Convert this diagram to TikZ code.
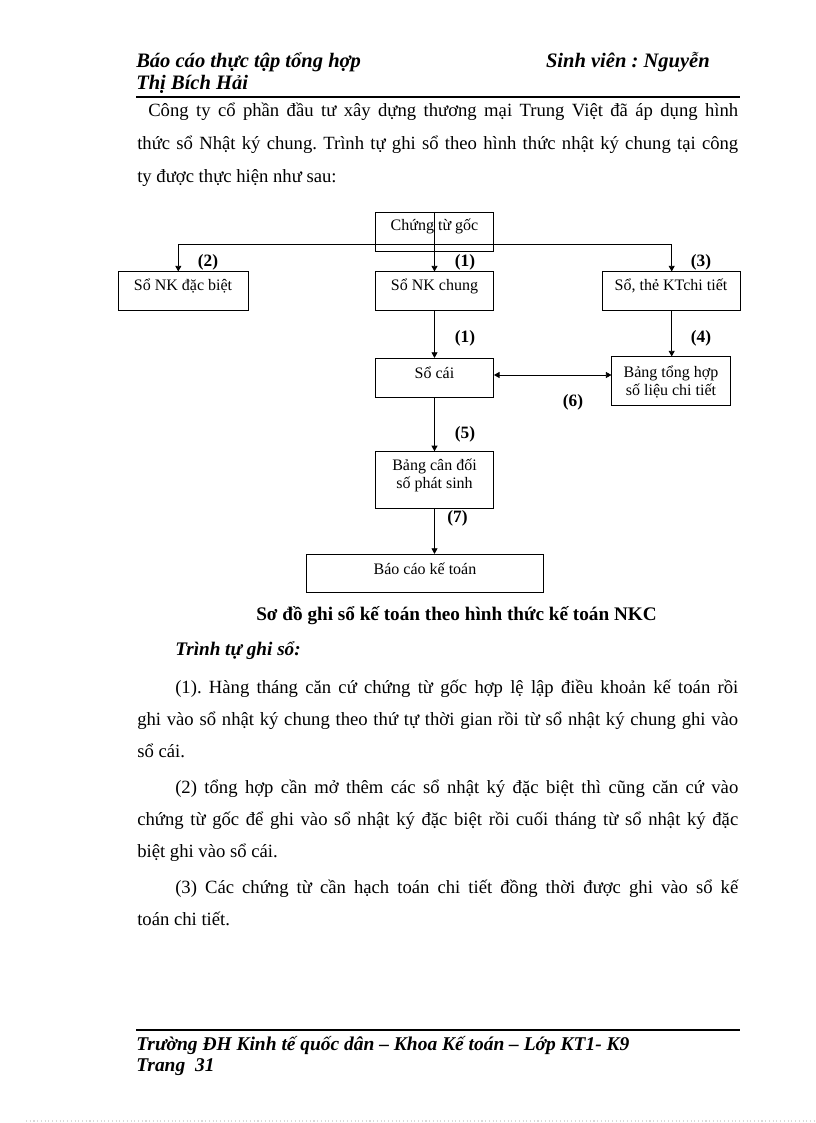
\documentclass[tikz,border=0pt]{standalone}
\usepackage{fontspec}
\setmainfont{Liberation Serif}
\usetikzlibrary{
arrows.meta,
}
\tikzset{
x=0.75pt, y=-0.75pt,
every node/.style={align=center, inner sep=0pt},
book/.style={rectangle, draw, line width=0.6pt},
boxtext/.style={font=\fontsize{12}{13.5}\selectfont, yshift=3.5pt},
num/.style={font=\fontsize{13}{15}\selectfont\bfseries},
link/.style={line width=0.6pt},
rule/.style={line width=1.3pt},
bodyline/.style={anchor=base west, font=\fontsize{14}{17}\selectfont},
headline/.style={anchor=base west, font=\fontsize{15.4}{18}\selectfont\bfseries\itshape},
footline/.style={anchor=base west, font=\fontsize{14.6}{17}\selectfont\bfseries\itshape},
>={Triangle[length=4.2pt, width=4.5pt]},
}
\newcommand\fillline[2]{\makebox[#1][s]{#2}}
\frenchspacing

\begin{document}
\begin{tikzpicture}
    \useasboundingbox (0,0) rectangle (816,1123);

    % page header
    \node [headline] (hdl) at (136,68) {Báo cáo thực tập tổng hợp};
    \node [headline, anchor=base east] (hdr) at (710,68) {Sinh viên : Nguyễn};
    \node [headline] (hdn) at (136,90) {Thị Bích Hải};
    \draw [rule] (136,97) -- (740,97);

    % intro
    \node [bodyline] (intro1) at (148,117) {\fillline{442.5pt}{Công ty cổ phần đầu tư xây dựng thương mại Trung Việt đã áp dụng hình}};
    \node [bodyline] (intro2) at (137,150) {\fillline{450.75pt}{thức sổ Nhật ký chung. Trình tự ghi sổ theo hình thức nhật ký chung tại công}};
    \node [bodyline] (intro3) at (137,183) {ty được thực hiện như sau:};

    % boxes
    \node [book, minimum width=88.2pt, minimum height=29pt, label={[boxtext]center:Chứng từ gốc}] (goc) at (434.5,231.6) {};
    \node [book, minimum width=97.5pt, minimum height=28.7pt, label={[boxtext]center:Sổ NK đặc biệt}] (nkdb) at (183,291) {};
    \node [book, minimum width=88.2pt, minimum height=28.7pt, label={[boxtext]center:Sổ NK chung}] (nkc) at (434.5,291) {};
    \node [book, minimum width=103.5pt, minimum height=28.7pt, label={[boxtext]center:Sổ, thẻ KTchi tiết}] (ktct) at (671,291) {};
    \node [book, minimum width=88.5pt, minimum height=29.25pt, label={[boxtext]center:Sổ cái}] (socai) at (434.5,377.8) {};
    \node [book, minimum width=88.7pt, minimum height=36.2pt, label={[boxtext, yshift=-4pt]center:Bảng tổng hợp\\số liệu chi tiết}] (thct) at (671,381) {};
    \node [book, minimum width=88.5pt, minimum height=42.5pt, label={[boxtext]center:Bảng cân đối\\số phát sinh}] (cdps) at (434.5,480) {};
    \node [book, minimum width=177.5pt, minimum height=28.8pt, label={[boxtext]center:Báo cáo kế toán}] (bckt) at (425,573.5) {};

    % connectors
    \coordinate (tl) at (178.3,244);
    \coordinate (tr) at (671.7,244);
    \coordinate (mid) at (553,375);
    \draw [link] (tl) -- (tr);
    \draw [link, ->] (tl) -- (tl |- nkdb.north);
    \draw [link, ->] (tr) -- (tr |- ktct.north);
    \draw [link, ->] (goc.north) -- (nkc.north);
    \draw [link, ->] (nkc.south) -- (socai.north);
    \draw [link, ->] (tr |- ktct.south) -- (tr |- thct.north);
    \draw [link, <->] (socai.east |- mid) -- (thct.west |- mid);
    \draw [link, ->] (socai.south) -- (cdps.north);
    \draw [link, ->] (cdps.south) -- (cdps.south |- bckt.north);

    % step numbers
    \node [num] (s2) at (208,262) {(2)};
    \node [num] (s1a) at (465,262) {(1)};
    \node [num] (s3) at (701,262) {(3)};
    \node [num] (s1b) at (465,338) {(1)};
    \node [num] (s4) at (701,338) {(4)};
    \node [num] (s6) at (573,402) {(6)};
    \node [num] (s5) at (465,434) {(5)};
    \node [num] (s7) at (457.5,518) {(7)};

    % caption
    \node [bodyline, anchor=base, font=\fontsize{14.4}{17}\selectfont\bfseries] (cap) at (456.5,620) {Sơ đồ ghi sổ kế toán theo hình thức kế toán NKC};

    % steps text
    \node [headline, font=\fontsize{14.4}{17}\selectfont\bfseries\itshape] (seq) at (175,655) {Trình tự ghi sổ:};
    \node [bodyline] (t1a) at (175,693) {\fillline{422.25pt}{(1). Hàng tháng căn cứ chứng từ gốc hợp lệ lập điều khoản kế toán rồi}};
    \node [bodyline] (t1b) at (137,725) {\fillline{450.75pt}{ghi vào sổ nhật ký chung theo thứ tự thời gian rồi từ sổ nhật ký chung ghi vào}};
    \node [bodyline] (t1c) at (137,757) {sổ cái.};
    \node [bodyline] (t2a) at (175,793) {\fillline{422.25pt}{(2) tổng hợp cần mở thêm các sổ nhật ký đặc biệt thì cũng căn cứ vào}};
    \node [bodyline] (t2b) at (137,825) {\fillline{450.75pt}{chứng từ gốc để ghi vào sổ nhật ký đặc biệt rồi cuối tháng từ sổ nhật ký đặc}};
    \node [bodyline] (t2c) at (137,857) {biệt ghi vào sổ cái.};
    \node [bodyline] (t3a) at (175,893) {\fillline{422.25pt}{(3) Các chứng từ cần hạch toán chi tiết đồng thời được ghi vào sổ kế}};
    \node [bodyline] (t3b) at (137,925) {toán chi tiết.};

    % page footer
    \draw [rule] (136,1030) -- (740,1030);
    \node [footline] (ftl) at (136,1050) {Trường ĐH Kinh tế quốc dân – Khoa Kế toán – Lớp KT1- K9};
    \node [footline] (ftp) at (136,1071) {Trang\ \ 31};
    \draw [gray!30, dotted, line width=0.8pt] (26,1121) -- (816,1121);
\end{tikzpicture}
\end{document}
